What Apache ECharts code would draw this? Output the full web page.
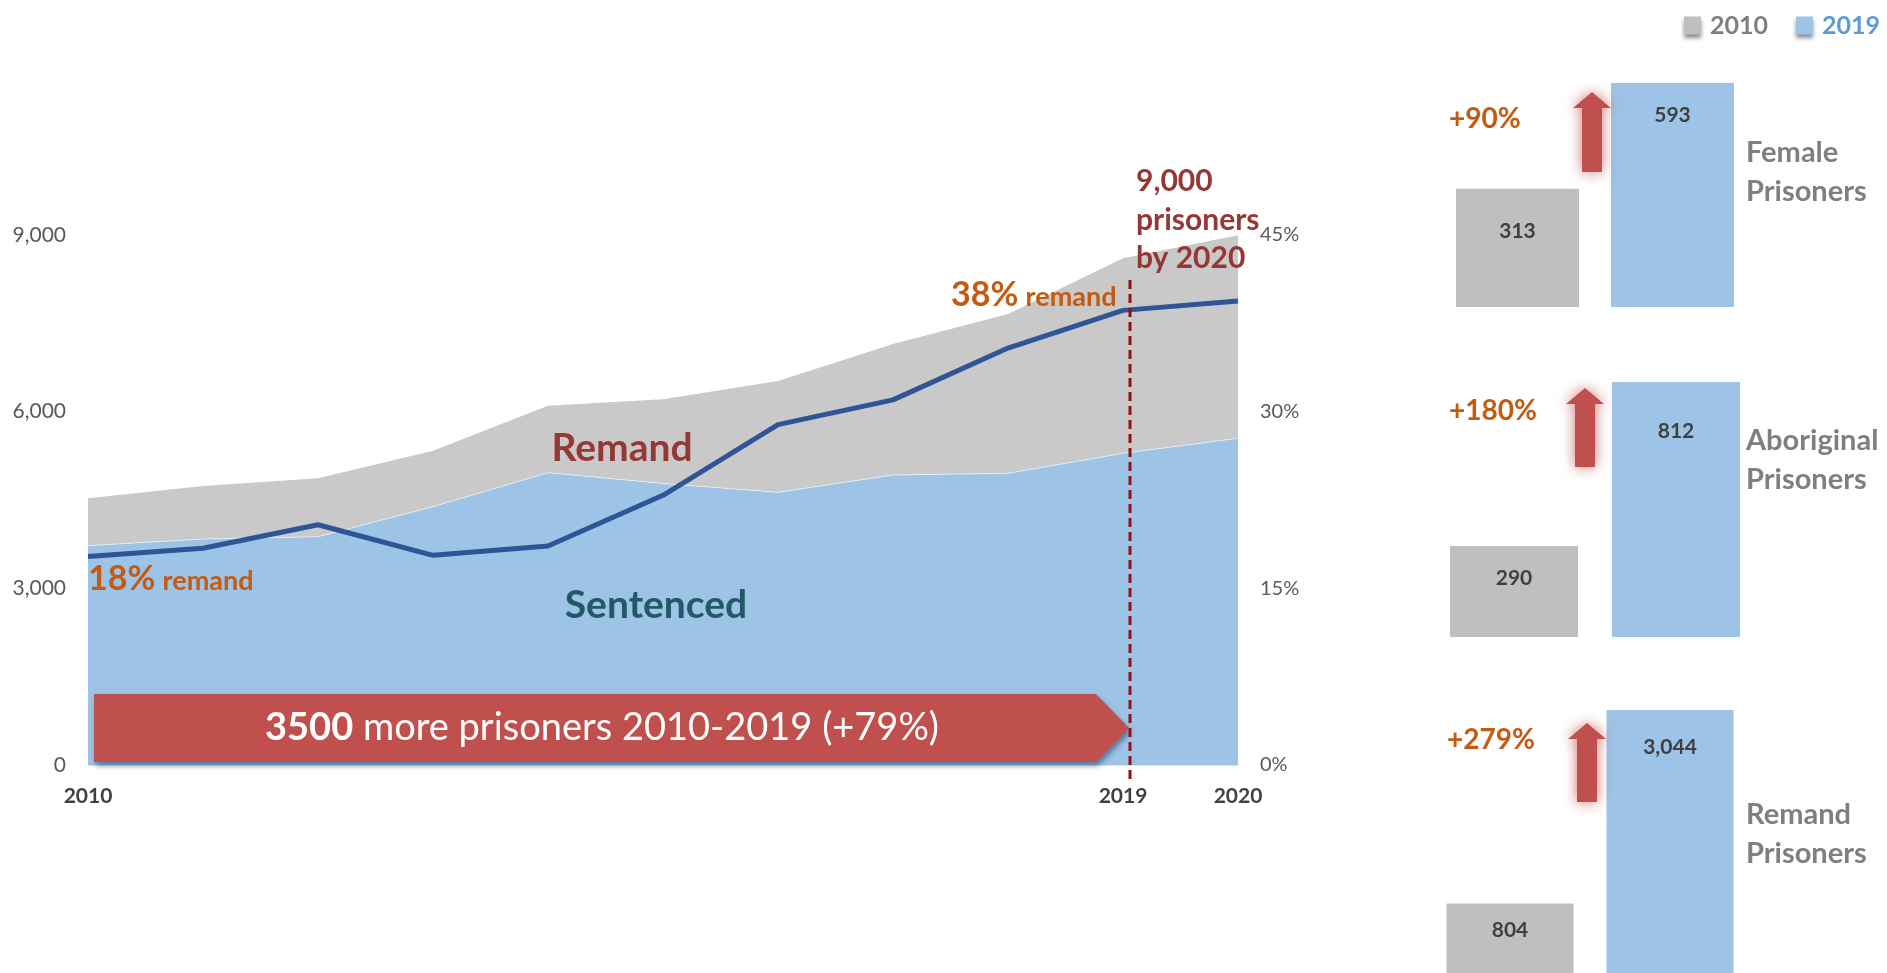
<!DOCTYPE html>
<html><head><meta charset="utf-8">
<script src="https://cdn.jsdelivr.net/npm/echarts@6/dist/echarts.min.js"></script>
<style>html,body{margin:0;padding:0;background:#fff;overflow:hidden}#c{width:1887px;height:973px}</style>
</head><body><div id="c"></div>
<script>
// ---------- DATA ----------
const years = ['2010','2011','2012','2013','2014','2015','2016','2017','2018','2019','2020'];
const sentenced = [3724, 3838, 3877, 4386, 4964, 4780, 4630, 4924, 4953, 5292, 5547];
const remand    = [806, 900, 991, 951, 1138, 1429, 1891, 2225, 2705, 3312, 3448];
const remandPct = [17.7, 18.4, 20.4, 17.8, 18.6, 22.9, 28.9, 31.0, 35.4, 38.6, 39.4];
const shownYears = ['2010','2019','2020'];

const panelNames  = [['Female','Prisoners'], ['Aboriginal','Prisoners'], ['Remand','Prisoners']];
const panelYears  = ['2010','2019'];
const panel2010   = [313, 290, 804];
const panel2019   = [593, 812, 3044];
const panelChange = ['+90%', '+180%', '+279%'];

// ---------- STYLE / LAYOUT ----------
const FONT = 'Lato, "Open Sans", sans-serif';
const C = {
  blue:'#9DC3E6', grey:'#C9C9C9', bar2010:'#BFBFBF', bar2019:'#9DC3E6',
  line:'#2F5597', orange:'#C55A11', darkred:'#953735', teal:'#215968',
  axis:'#595959', axisBold:'#404040', side:'#7F7F7F', arrow:'#C0504D', dash:'#8E1414'
};
const panelLayout = [
  {grid:{left:1440, top:83,  width:310, height:224}, barWidth:123, labelDist:[32,22], pct:[1449,119], arrow:[1592,92,172],  name:[1746,153]},
  {grid:{left:1433, top:382, width:324, height:255}, barWidth:128, labelDist:[22,39], pct:[1449,411], arrow:[1585,388,467], name:[1746,441]},
  {grid:{left:1430, top:710, width:320, height:266}, barWidth:127, labelDist:[16,27], pct:[1447,740], arrow:[1587,723,802], name:[1746,815]}
];

const chart = echarts.init(document.getElementById('c'), null, {renderer:'canvas'});

const grids = [{left:88, top:235, width:1150, height:530}].concat(panelLayout.map(p => p.grid));
const xAxes = [{
  type:'category', data:years, boundaryGap:false, gridIndex:0,
  axisLine:{show:true, lineStyle:{color:'#E3E3E3', width:2}},
  axisTick:{show:false},
  axisLabel:{
    interval:(i, v) => shownYears.indexOf(v) >= 0,
    color:C.axisBold, fontWeight:'bold', fontSize:21, fontFamily:FONT, margin:21
  }
}];
const yAxes = [
  {type:'value', gridIndex:0, min:0, max:9000, interval:3000, splitLine:{show:false},
   axisLine:{show:false}, axisTick:{show:false},
   axisLabel:{color:C.axis, fontSize:21, fontFamily:FONT, margin:22,
     formatter:v => v.toLocaleString('en-US')}},
  {type:'value', gridIndex:0, min:0, max:45, interval:15, position:'right', splitLine:{show:false},
   axisLine:{show:false}, axisTick:{show:false},
   axisLabel:{color:C.axis, fontSize:20, fontFamily:FONT, margin:22, formatter:'{value}%'}}
];
const series = [
  {name:'Sentenced', type:'line', stack:'total', xAxisIndex:0, yAxisIndex:0, data:sentenced,
   symbol:'none', lineStyle:{width:1, color:'rgba(255,255,255,0.55)'},
   areaStyle:{color:C.blue, opacity:1}, z:1, silent:true},
  {name:'Remand', type:'line', stack:'total', xAxisIndex:0, yAxisIndex:0, data:remand,
   symbol:'none', lineStyle:{width:0}, areaStyle:{color:C.grey, opacity:1}, z:1, silent:true},
  {name:'Remand %', type:'line', xAxisIndex:0, yAxisIndex:1, data:remandPct,
   symbol:'none', lineStyle:{width:5, color:C.line}, z:5, silent:true}
];

panelLayout.forEach((p, i) => {
  xAxes.push({type:'category', data:panelYears, gridIndex:i+1, show:false});
  yAxes.push({type:'value', gridIndex:i+1, min:0, max:Math.max(panel2010[i], panel2019[i]), show:false});
  const lbl = d => ({show:true, position:'insideTop', distance:d, color:C.axisBold,
               fontSize:21, fontWeight:'bold', fontFamily:FONT,
               formatter:q => Number(q.value).toLocaleString('en-US')});
  series.push({name:'2010', type:'bar', xAxisIndex:i+1, yAxisIndex:i+2, data:[panel2010[i], '-'],
    barWidth:p.barWidth, barGap:'-100%', itemStyle:{color:C.bar2010}, label:lbl(p.labelDist[0]), silent:true});
  series.push({name:'2019', type:'bar', xAxisIndex:i+1, yAxisIndex:i+2, data:['-', panel2019[i]],
    barWidth:p.barWidth, barGap:'-100%', itemStyle:{color:C.bar2019}, label:lbl(p.labelDist[1]), silent:true});
});

chart.setOption({
  animation:false,
  grid:grids, xAxis:xAxes, yAxis:yAxes, series:series,
  legend:{
    data:[{name:'2010', textStyle:{color:'#7F7F7F'}}, {name:'2019', textStyle:{color:'#5B9BD5'}}],
    left:1679, top:8, icon:'rect', itemWidth:17, itemHeight:18, itemGap:28,
    itemStyle:{shadowBlur:4, shadowColor:'rgba(0,0,0,0.45)', shadowOffsetY:3},
    textStyle:{fontSize:25, fontWeight:'bold', fontFamily:FONT, padding:[0,0,0,4]},
    selectedMode:false
  }
});

// ---------- ANNOTATIONS ----------
const x10 = chart.convertToPixel({xAxisIndex:0}, '2010');
const x19 = chart.convertToPixel({xAxisIndex:0}, '2019');
const y0  = chart.convertToPixel({yAxisIndex:0}, 0);

function txt(x, y, text, opts) {
  return {type:'text', x:x, y:y, z:20, silent:true,
    style:Object.assign({text:text, fontFamily:FONT, align:'left', verticalAlign:'middle'}, opts)};
}
function upArrow(cx, top, bottom) {
  const hw = 19, hh = 16, sw = 10;
  return {type:'polygon', z:15, silent:true,
    shape:{points:[[cx, top],[cx+hw, top+hh],[cx+sw, top+hh],[cx+sw, bottom],[cx-sw, bottom],[cx-sw, top+hh],[cx-hw, top+hh]]},
    style:{fill:C.arrow, shadowBlur:14, shadowColor:'rgba(192,80,77,0.8)'}};
}

const bTop = y0 - 71, bBot = y0 - 3, bMid = (bTop + bBot) / 2;
const bLeft = x10 + 6, bRectRight = x19 - 27, bTip = x19 + 6;
const dashX = x19 + 7;
const remandRich = {
  a:{fontSize:34, fontWeight:'bold', fill:C.orange, fontFamily:FONT},
  b:{fontSize:27, fontWeight:'bold', fill:C.orange, fontFamily:FONT, padding:[5,0,0,0]}
};

const graphics = [
  {type:'line', z:12, silent:true,
   shape:{x1:dashX, y1:280, x2:dashX, y2:y0 + 18},
   style:{stroke:C.dash, lineWidth:3, lineDash:[9,5]}},
  {type:'polygon', z:10, silent:true,
   shape:{points:[[bLeft,bTop],[bRectRight,bTop],[bTip,bMid],[bRectRight,bBot],[bLeft,bBot]]},
   style:{fill:C.arrow, shadowBlur:5, shadowOffsetY:4, shadowOffsetX:2, shadowColor:'rgba(40,60,100,0.55)'}},
  {type:'text', x:602, y:bMid, z:21, silent:true,
   style:{text:'{b|3500} more prisoners 2010-2019 (+79%)', fill:'#fff', fontSize:38, fontFamily:FONT,
     align:'center', verticalAlign:'middle',
     rich:{b:{fontSize:38, fontWeight:'bold', fill:'#fff', fontFamily:FONT}}}},
  txt(622, 448, 'Remand', {fill:C.darkred, fontSize:39, fontWeight:'bold', align:'center'}),
  txt(656, 605, 'Sentenced', {fill:C.teal, fontSize:39, fontWeight:'bold', align:'center'}),
  txt(1136, 181, '9,000', {fill:C.darkred, fontSize:30, fontWeight:'bold'}),
  txt(1136, 220, 'prisoners', {fill:C.darkred, fontSize:30, fontWeight:'bold'}),
  txt(1136, 258, 'by 2020', {fill:C.darkred, fontSize:30, fontWeight:'bold'}),
  txt(951, 295, '{a|38%} {b|remand}', {fill:C.orange, fontSize:30, fontWeight:'bold', rich:remandRich}),
  txt(x10, 579, '{a|18%} {b|remand}', {fill:C.orange, fontSize:30, fontWeight:'bold', rich:remandRich})
];

panelLayout.forEach((p, i) => {
  graphics.push(txt(p.pct[0], p.pct[1], panelChange[i], {fill:C.orange, fontSize:28, fontWeight:'bold'}));
  graphics.push(upArrow(p.arrow[0], p.arrow[1], p.arrow[2]));
  graphics.push(txt(p.name[0], p.name[1], panelNames[i][0], {fill:C.side, fontSize:29, fontWeight:'bold'}));
  graphics.push(txt(p.name[0], p.name[1] + 39, panelNames[i][1], {fill:C.side, fontSize:29, fontWeight:'bold'}));
});

chart.setOption({graphic:graphics});
</script>
</body></html>
